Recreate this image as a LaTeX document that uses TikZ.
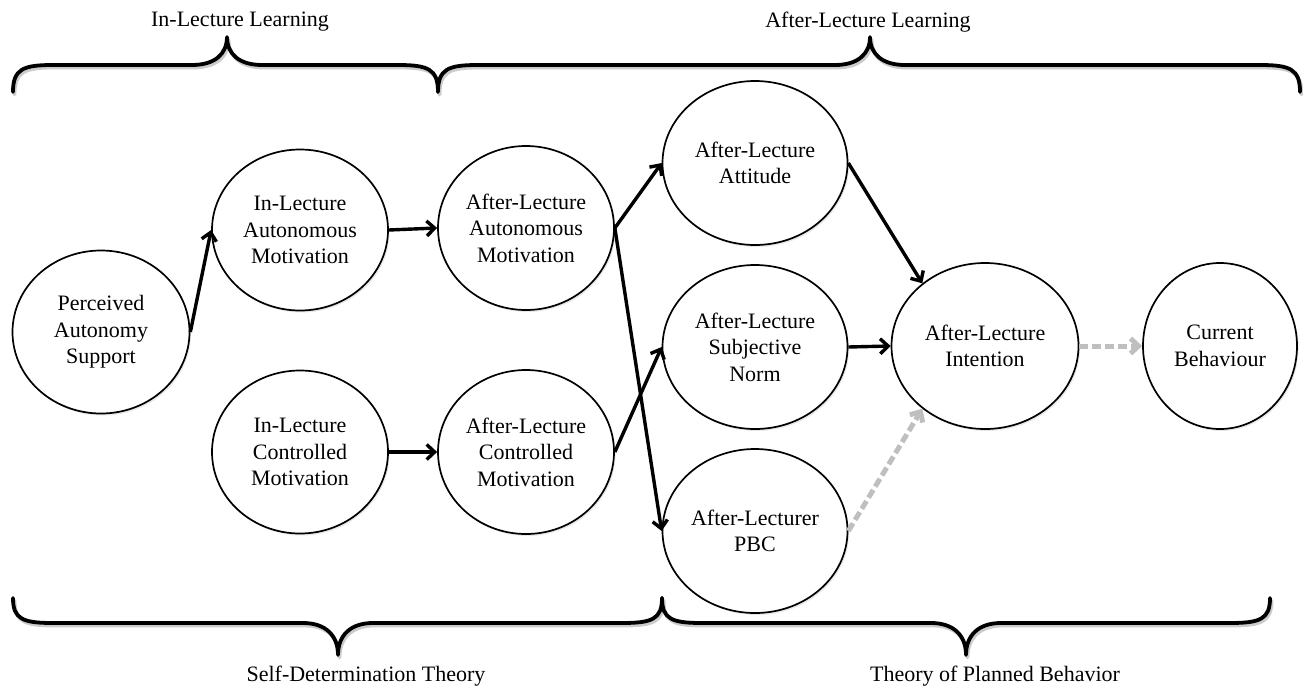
\documentclass[tikz,border=0pt]{standalone}
\usepackage{fontspec}
\setmainfont{Liberation Serif}
\usetikzlibrary{shapes.geometric,arrows.meta,shadows}
\newcommand\curlyb[6]{% x1 xm x2 yend yh ytip
  \draw[bracesh] (#1,#4) .. controls (#1,{#5+0.15*(#4-#5)}) and (#1+10,#5) .. (#1+40,#5)
    -- (#2-35,#5) .. controls (#2-12,#5) and (#2,{#5+0.4*(#6-#5)}) .. (#2,#6)
    .. controls (#2,{#5+0.4*(#6-#5)}) and (#2+12,#5) .. (#2+35,#5)
    -- (#3-40,#5) .. controls (#3-10,#5) and (#3,{#5+0.15*(#4-#5)}) .. (#3,#4);
  \draw[bracest] (#1,#4) .. controls (#1,{#5+0.15*(#4-#5)}) and (#1+10,#5) .. (#1+40,#5)
    -- (#2-35,#5) .. controls (#2-12,#5) and (#2,{#5+0.4*(#6-#5)}) .. (#2,#6)
    .. controls (#2,{#5+0.4*(#6-#5)}) and (#2+12,#5) .. (#2+35,#5)
    -- (#3-40,#5) .. controls (#3-10,#5) and (#3,{#5+0.15*(#4-#5)}) .. (#3,#4);
}
\begin{document}
\begin{tikzpicture}[x=1pt,y=-1pt,
  every node/.style={font=\fontsize{22}{26.5}\selectfont},
  ell/.style 2 args={ellipse, draw, line width=1.7pt, fill=white, inner sep=0pt,
    minimum width=#1, minimum height=#2, align=center,
    drop shadow={opacity=0.18, shadow xshift=1.5pt, shadow yshift=-2pt}},
  bracest/.style={line width=3.8pt, line cap=round, line join=round},
  bracesh/.style={line width=3.8pt, line cap=round, line join=round, black!20, shift={(1.5,2.5)}},
  blk/.style={line width=3.4pt, -{Straight Barb[length=8pt,width=15pt]}},
  gry/.style={line width=5pt, black!25, dash pattern=on 9pt off 4pt, -{Straight Barb[length=8pt,width=15pt]}}
]
\useasboundingbox (0,0) rectangle (1303,688);
% braces
\curlyb{13}{227}{438}{92}{65}{37}
\curlyb{438}{870}{1300}{92}{65}{37}
\curlyb{13}{338}{662}{598}{623}{655}
\curlyb{662}{966}{1270}{598}{623}{655}
% brace labels
\node (lin) at (240,22) {In-Lecture Learning};
\node (laf) at (868,22) {After-Lecture Learning};
\node (lsd) at (366,676) {Self-Determination Theory};
\node (ltp) at (995,676) {Theory of Planned Behavior};
% nodes
\node[ell={177}{163}] (pas) at (101,332) {Perceived\\Autonomy\\Support};
\node[ell={176}{161}] (ina) at (300,230) {In-Lecture\\Autonomous\\Motivation};
\node[ell={176}{163}] (inc) at (300,452) {In-Lecture\\Controlled\\Motivation};
\node[ell={176}{164}] (afa) at (526,228) {After-Lecture\\Autonomous\\Motivation};
\node[ell={176}{164}] (afc) at (526,452) {After-Lecture\\Controlled\\Motivation};
\node[ell={185}{164}] (att) at (755,163) {After-Lecture\\Attitude};
\node[ell={185}{164}] (sn) at (755,347) {After-Lecture\\Subjective\\Norm};
\node[ell={185}{164}] (pbc) at (755,531) {After-Lecturer\\PBC};
\node[ell={187}{166}] (int) at (985,346) {After-Lecture\\Intention};
\node[ell={154}{166}] (cb) at (1220,346) {Current\\Behaviour};
% connectors
\draw[blk] (pas.east) -- (ina.west);
\draw[blk] (ina.east) -- (afa.west);
\draw[blk] (inc.east) -- (afc.west);
\draw[blk] (afa.east) -- (att.west);
\draw[blk] (afa.east) -- (pbc.west);
\draw[blk] (afc.east) -- (sn.west);
\draw[blk] (att.east) -- (int.135);
\draw[blk] (sn.east) -- (int.west);
\draw[gry] (pbc.east) -- (int.225);
\draw[gry] (int.east) -- (cb.west);
\end{tikzpicture}
\end{document}
